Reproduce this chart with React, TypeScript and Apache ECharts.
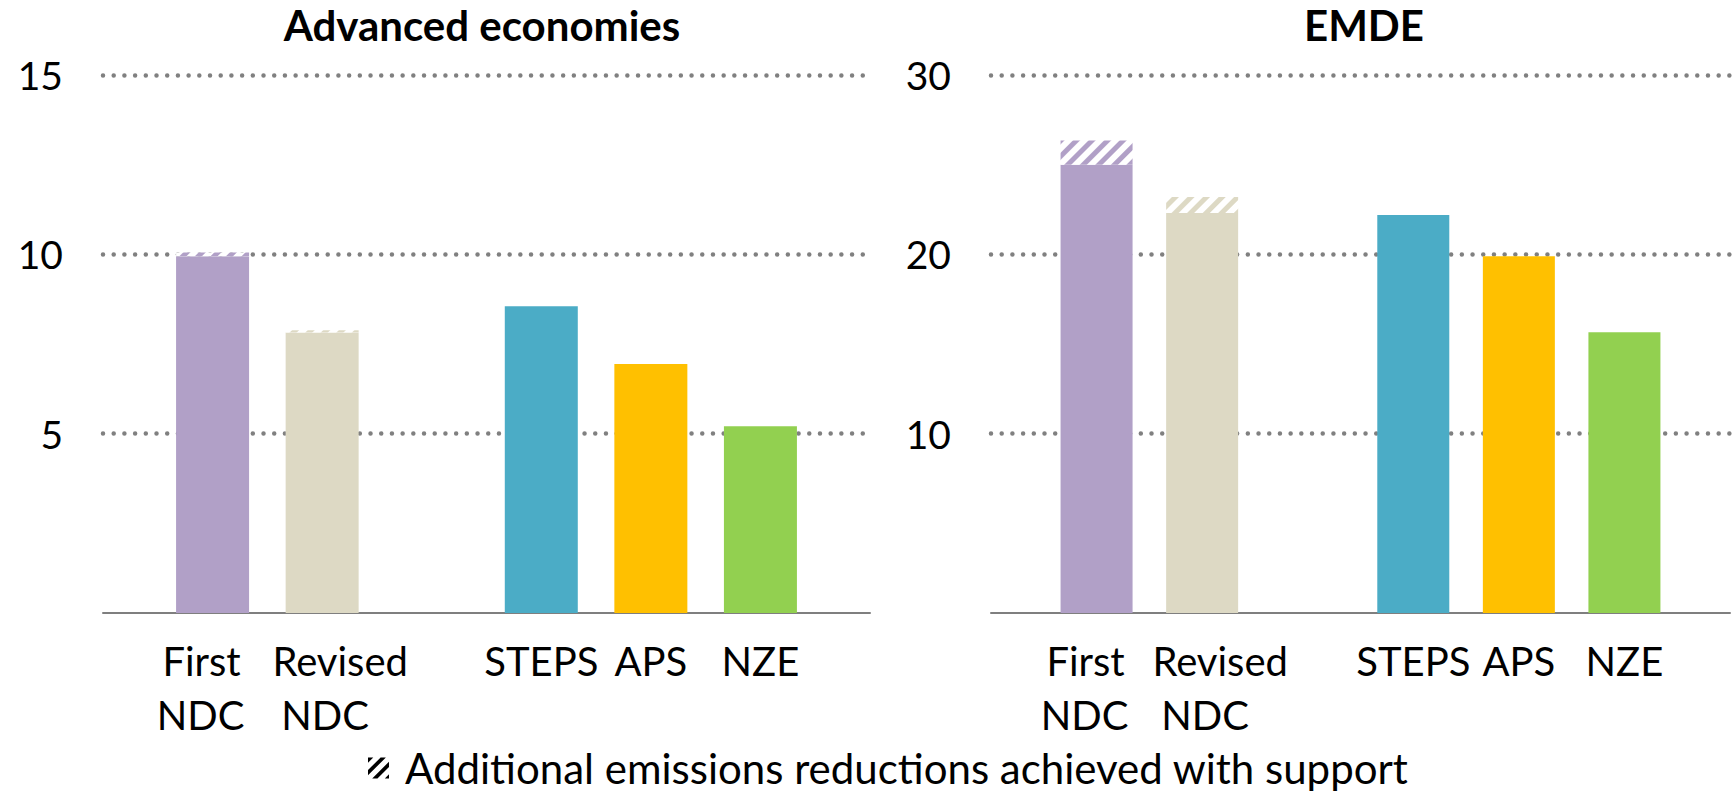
import React, { useEffect, useRef } from "react";
import * as echarts from "echarts";

const categories = ["", "First NDC", "Revised NDC", "", "STEPS", "APS", "NZE", ""];
const barColors = ["", "#B1A0C7", "#DDD9C4", "", "#4BACC6", "#FFC000", "#92D050", ""];

const advancedCommitted = [null, 9.95, 7.82, null, 8.55, 6.94, 5.21, null];
const advancedSupport = [null, 0.1, 0.06, null, null, null, null, null];
const emdeCommitted = [null, 25.0, 22.3, null, 22.2, 19.9, 15.65, null];
const emdeSupport = [null, 1.35, 0.9, null, null, null, null, null];

const advancedTicks = { min: 0, max: 15, interval: 5 };
const emdeTicks = { min: 0, max: 30, interval: 10 };

const titles = ["Advanced economies", "EMDE"];
const supportName = "Additional emissions reductions achieved with support";

const FONT = "Lato, 'Noto Sans', sans-serif";

function solidData(values: (number | null)[]) {
  return values.map((v, i) =>
    v == null ? null : { value: v, itemStyle: { color: barColors[i] } }
  );
}

function hatchData(values: (number | null)[]) {
  return values.map((v, i) =>
    v == null
      ? null
      : {
          value: v,
          itemStyle: {
            color: "#ffffff",
            decal: {
              symbol: "rect",
              symbolSize: 1,
              dashArrayX: [1, 0],
              dashArrayY: [5, 5.5],
              rotation: -Math.PI / 4,
              color: barColors[i],
            },
          },
        }
  );
}

const LBL = 40;
const labelRich = {
  fl: { fontSize: LBL, fontFamily: FONT, color: "#000", lineHeight: 54, padding: [0, 22, 0, 0] },
  fn: { fontSize: LBL, fontFamily: FONT, color: "#000", lineHeight: 54, padding: [0, 24, 0, 0] },
  rl: { fontSize: LBL, fontFamily: FONT, color: "#000", lineHeight: 54, padding: [0, 0, 0, 36] },
  rn: { fontSize: LBL, fontFamily: FONT, color: "#000", lineHeight: 54, padding: [0, 0, 0, 6] },
  n: { fontSize: LBL, fontFamily: FONT, color: "#000", lineHeight: 54 },
};

function labelFormatter(value: string) {
  if (value === "First NDC") return "{fl|First}\n{fn|NDC}";
  if (value === "Revised NDC") return "{rl|Revised}\n{rn|NDC}";
  if (!value) return "";
  return "{n|" + value + "}";
}

const dotted = {
  show: true,
  lineStyle: { color: "#808080", width: 4.5, type: [0.001, 10.7], cap: "round" },
};

function xAxis(gridIndex: number) {
  return {
    type: "category",
    gridIndex,
    data: categories,
    boundaryGap: false,
    axisLine: { show: true, lineStyle: { color: "#7f7f7f", width: 2 } },
    axisTick: { show: false },
    splitLine: { show: false },
    axisLabel: {
      interval: 0,
      margin: 21,
      formatter: labelFormatter,
      rich: labelRich,
    },
  };
}

function yAxis(gridIndex: number, ticks: { min: number; max: number; interval: number }) {
  return {
    type: "value",
    gridIndex,
    min: ticks.min,
    max: ticks.max,
    interval: ticks.interval,
    axisLine: { show: false },
    axisTick: { show: false },
    splitLine: { ...dotted, showMinLine: false },
    axisLabel: {
      margin: 40,
      fontSize: 39,
      fontFamily: FONT,
      color: "#000",
      formatter: (v: number) => (v === 0 ? "" : String(v)),
    },
  };
}

export default function App() {
  const ref = useRef<HTMLDivElement>(null);

  useEffect(() => {
    if (!ref.current) return;
    const chart = echarts.init(ref.current, undefined, { renderer: "svg" });
    const titleStyle = { fontSize: 42, fontWeight: "bold", fontFamily: FONT, color: "#000" };
    const option: any = {
      animation: false,
      backgroundColor: "#ffffff",
      textStyle: { fontFamily: FONT },
      title: [
        {
          text: titles[0],
          left: 482,
          top: 25,
          padding: 0,
          textAlign: "center",
          textVerticalAlign: "middle",
          textStyle: titleStyle,
        },
        {
          text: titles[1],
          left: 1364,
          top: 25,
          padding: 0,
          textAlign: "center",
          textVerticalAlign: "middle",
          textStyle: titleStyle,
        },
      ],
      legend: {
        left: 368,
        top: 746,
        padding: 0,
        itemWidth: 25,
        itemHeight: 21,
        selectedMode: false,
        textStyle: {
          fontSize: 42,
          lineHeight: 44,
          fontFamily: FONT,
          color: "#000",
          padding: [0, 0, 0, 9],
        },
        data: [
          {
            name: supportName,
            icon:
              "path://M0,0L0,0L0,5L5,0Z M0,12L12,0L17,0L0,17Z M4,20L20,4L20,9L9,20Z M16,20L20,16L20,20Z",
            itemStyle: { color: "#000" },
          },
        ],
      },
      grid: [
        { left: 103, top: 75, width: 767, height: 538 },
        { left: 991, top: 75, width: 746, height: 538 },
      ],
      xAxis: [xAxis(0), xAxis(1)],
      yAxis: [yAxis(0, advancedTicks), yAxis(1, emdeTicks)],
      series: [
        {
          name: "Advanced economies",
          type: "bar",
          xAxisIndex: 0,
          yAxisIndex: 0,
          stack: "adv",
          barWidth: 73,
          data: solidData(advancedCommitted),
        },
        {
          name: supportName,
          type: "bar",
          xAxisIndex: 0,
          yAxisIndex: 0,
          stack: "adv",
          barWidth: 73,
          itemStyle: { color: "#000" },
          data: hatchData(advancedSupport),
        },
        {
          name: "EMDE",
          type: "bar",
          xAxisIndex: 1,
          yAxisIndex: 1,
          stack: "emde",
          barWidth: 72,
          data: solidData(emdeCommitted),
        },
        {
          name: supportName,
          type: "bar",
          xAxisIndex: 1,
          yAxisIndex: 1,
          stack: "emde",
          barWidth: 72,
          itemStyle: { color: "#000" },
          data: hatchData(emdeSupport),
        },
      ],
    };
    chart.setOption(option);
    return () => chart.dispose();
  }, []);

  return (
    <div
      ref={ref}
      style={{ position: "absolute", left: 0, top: 0, width: 1733, height: 794 }}
    />
  );
}
